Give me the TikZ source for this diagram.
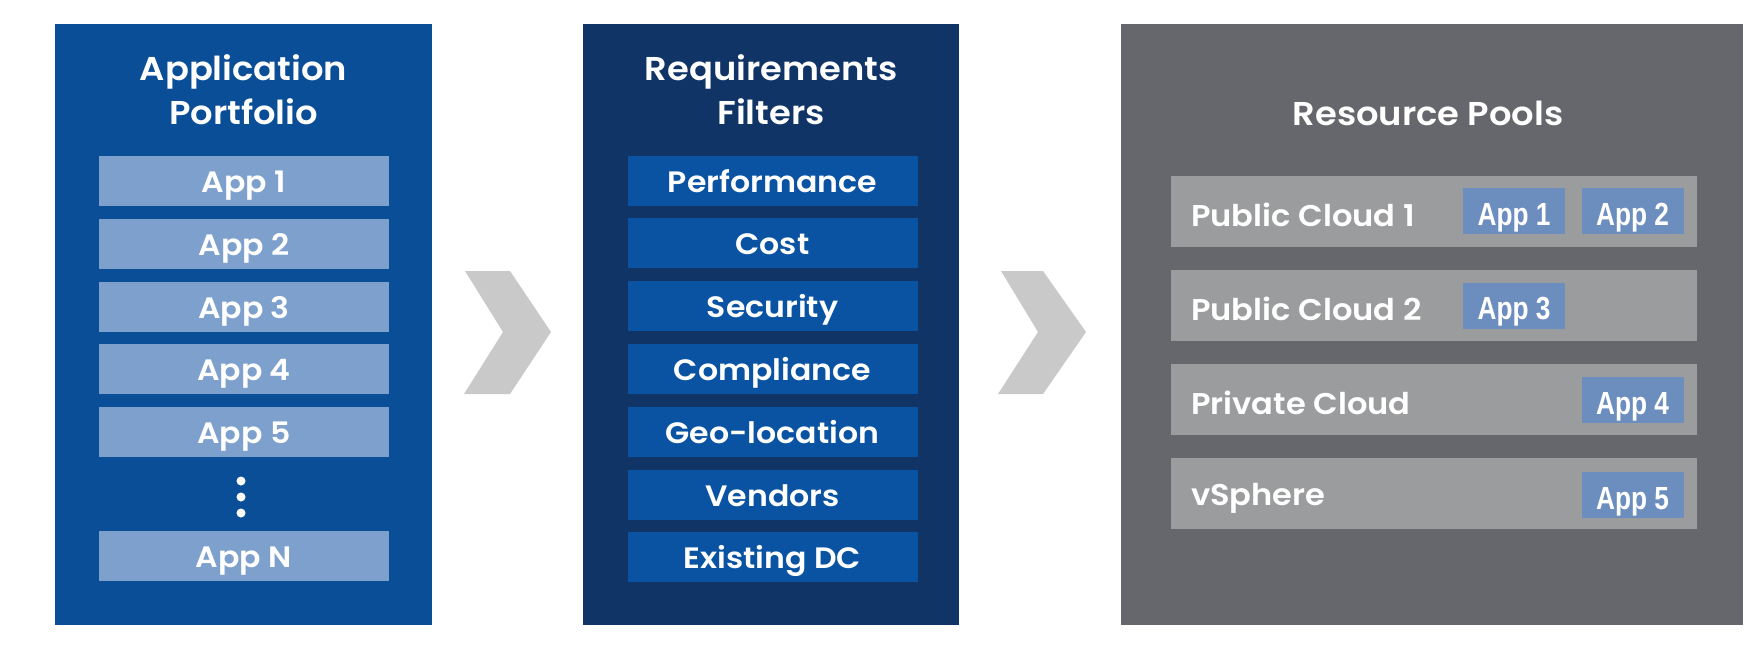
\documentclass[tikz,border=0pt]{standalone}
\usepackage{fontspec}
\IfFontExistsTF{Poppins SemiBold}{\newfontfamily\gfont[FakeStretch=1.07]{Poppins SemiBold}}{\IfFontExistsTF{Poppins Medium}{\newfontfamily\gfont[FakeStretch=1.1]{Poppins Medium}}{\newfontfamily\gfont[FakeStretch=1.1]{Poppins}}}
\newfontfamily\nfont[FakeStretch=0.82]{Liberation Sans}
\definecolor{pblue}{HTML}{0B4E98}
\definecolor{appbox}{HTML}{7DA0CC}
\definecolor{pnavy}{HTML}{0F3465}
\definecolor{filt}{HTML}{0A53A3}
\definecolor{pgray}{HTML}{66676C}
\definecolor{prow}{HTML}{9B9C9D}
\definecolor{chip}{HTML}{6C8EBF}
\definecolor{chev}{HTML}{C9C9C9}
\tikzset{
  panel/.style={rectangle, inner sep=0pt, minimum width=#1},
  titletxt/.style={text=white, align=center, font=\gfont\fontsize{33}{44}\selectfont},
  itembox/.style={rectangle, inner sep=0pt, minimum width=290pt, minimum height=50pt, text height=23pt, text depth=0pt, text=white, font=\gfont\fontsize{29.5}{30}\selectfont},
  rowbox/.style={rectangle, fill=prow, inner sep=0pt, minimum width=526pt, minimum height=71pt},
  rowtxt/.style={anchor=base west, inner sep=0pt, text=white, font=\gfont\fontsize{30}{30}\selectfont},
  chipbox/.style={rectangle, fill=chip, inner sep=0pt, minimum width=102pt, minimum height=46pt, text height=28pt, text depth=0pt, text=white, font=\nfont\bfseries\fontsize{32}{34}\selectfont},
  dotc/.style={circle, fill=white, inner sep=0pt, minimum size=9pt}
}
\begin{document}
\begin{tikzpicture}[x=1pt,y=-1pt]
\useasboundingbox[fill=white] (0,0) rectangle (1748,648);
% panels
\node[panel=377pt, minimum height=601pt, fill=pblue] (p1) at (243.5,324.5) {};
\node[panel=376pt, minimum height=601pt, fill=pnavy] (p2) at (771,324.5) {};
\node[panel=622pt, minimum height=601pt, fill=pgray] (p3) at (1432,324.5) {};
% titles
\node[titletxt] (t1) at (243.5,90) {Application\\Portfolio};
\node[titletxt] (t2) at (771,90) {Requirements\\Filters};
\node[titletxt] (t3) at (1428,113) {Resource Pools};
% apps
\node[itembox, fill=appbox] (a1) at (244,181) {App 1};
\node[itembox, fill=appbox] (a2) at (244,243.8) {App 2};
\node[itembox, fill=appbox] (a3) at (244,306.6) {App 3};
\node[itembox, fill=appbox] (a4) at (244,369.4) {App 4};
\node[itembox, fill=appbox] (a5) at (244,432.2) {App 5};
\node[dotc] (d1) at (241,481) {};
\node[dotc] (d2) at (241,497) {};
\node[dotc] (d3) at (241,513) {};
\node[itembox, fill=appbox] (an) at (244,556) {App N};
% filters
\node[itembox, fill=filt] (f1) at (772.5,180.5) {Performance};
\node[itembox, fill=filt] (f2) at (772.5,243.3) {Cost};
\node[itembox, fill=filt] (f3) at (772.5,306.1) {Security};
\node[itembox, fill=filt] (f4) at (772.5,368.9) {Compliance};
\node[itembox, fill=filt] (f5) at (772.5,431.7) {Geo-location};
\node[itembox, fill=filt] (f6) at (772.5,494.5) {Vendors};
\node[itembox, fill=filt] (f7) at (772.5,557.3) {Existing DC};
% resource rows
\node[rowbox] (r1) at (1434,211.5) {};
\node[rowbox] (r2) at (1434,305.5) {};
\node[rowbox] (r3) at (1434,399) {};
\node[rowbox] (r4) at (1434,493.5) {};
\node[rowtxt] (l1) at (1191,226) {Public Cloud 1};
\node[rowtxt] (l2) at (1191,320) {Public Cloud 2};
\node[rowtxt] (l3) at (1191,414) {Private Cloud};
\node[rowtxt] (l4) at (1191,505) {vSphere};
\node[chipbox] (c1) at (1514,211) {App 1};
\node[chipbox] (c2) at (1632.5,211) {App 2};
\node[chipbox] (c3) at (1514,305.5) {App 3};
\node[chipbox] (c4) at (1632.5,400) {App 4};
\node[chipbox] (c5) at (1632.5,495) {App 5};
% chevrons
\fill[chev] (465,271) -- (510,271) -- (551,332) -- (510,394) -- (464,394) -- (503,332) -- cycle;
\fill[chev] (1001,271) -- (1043,271) -- (1086,332) -- (1043,394) -- (998,394) -- (1038,332) -- cycle;
\end{tikzpicture}
\end{document}
